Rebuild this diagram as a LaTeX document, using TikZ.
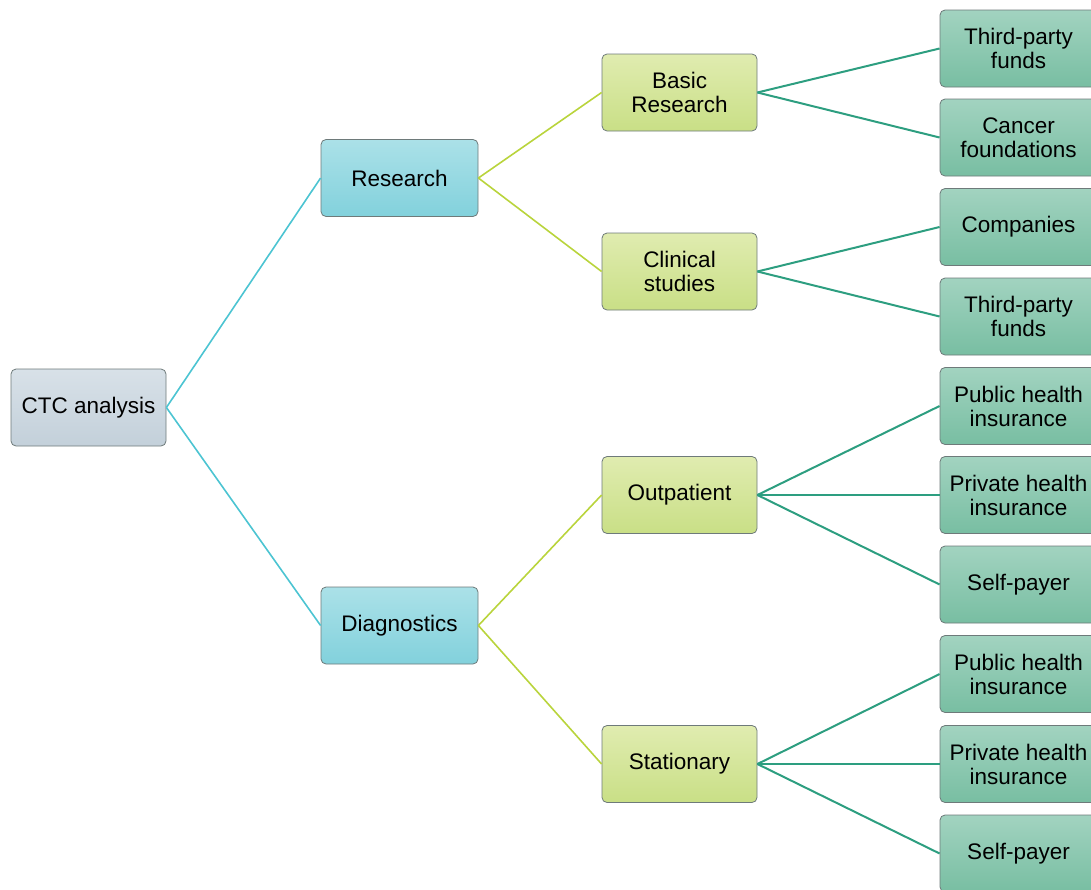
\documentclass[tikz,border=0pt]{standalone}
\usepackage{fontspec}
\setmainfont{Liberation Sans}
\usepackage{tikz}
\usetikzlibrary{positioning}

\definecolor{rootTop}{HTML}{D8E1E8}
\definecolor{rootBot}{HTML}{C3D0DA}
\definecolor{resTop}{HTML}{ABE1E8}
\definecolor{resBot}{HTML}{82D1DC}
\definecolor{subTop}{HTML}{E0ECB0}
\definecolor{subBot}{HTML}{C9DF86}
\definecolor{leafTop}{HTML}{A2D3C0}
\definecolor{leafBot}{HTML}{78BEA2}
\definecolor{boxLine}{HTML}{6E7A7A}
\definecolor{edgeCyan}{HTML}{4CC4D2}
\definecolor{edgeLime}{HTML}{B9D43C}
\definecolor{edgeTeal}{HTML}{2D9E80}

\begin{document}
\begin{tikzpicture}
          [x=1pt,y=-1pt,semithick,
           box/.style={draw=boxLine,line width=0.8pt,rounded corners=5pt,
             minimum width=155pt,minimum height=77pt,align=center,
             font=\fontsize{22.5}{24}\selectfont,text=black,inner sep=2pt},
           rootbox/.style={box,top color=rootTop,bottom color=rootBot},
           areabox/.style={box,top color=resTop,bottom color=resBot,minimum width=157pt},
           subbox/.style={box,top color=subTop,bottom color=subBot},
           leafbox/.style={box,top color=leafTop,bottom color=leafBot,minimum width=157pt},
           edge1/.style={draw=edgeCyan,line width=1.6pt},
           edge2/.style={draw=edgeLime,line width=1.6pt},
           edge3/.style={draw=edgeTeal,line width=2pt}]
          \useasboundingbox (0,0) rectangle (1091,889);

          % root and first level
          \node[rootbox] (ctc) at (88.5,407.5) {CTC analysis};
          \node[areabox] (res) at (399.5,178) {Research};
          \node[areabox] (diag) at (399.5,625.5) {Diagnostics};

          % second level
          \node[subbox] (basic) at (679.5,92.5) {Basic\\Research};
          \node[subbox] (clin) at (679.5,271.5) {Clinical\\studies};
          \node[subbox] (outp) at (679.5,495) {Outpatient};
          \node[subbox] (stat) at (679.5,764) {Stationary};

          % funding sources
          \node[leafbox] (tpf1) at (1018.5,48.5) {Third-party\\funds};
          \node[leafbox] (canc) at (1018.5,137.5) {Cancer\\foundations};
          \node[leafbox] (comp) at (1018.5,227) {Companies};
          \node[leafbox] (tpf2) at (1018.5,316.5) {Third-party\\funds};
          \node[leafbox] (pub1) at (1018.5,406) {Public health\\insurance};
          \node[leafbox] (priv1) at (1018.5,495) {Private health\\insurance};
          \node[leafbox] (self1) at (1018.5,584.5) {Self-payer};
          \node[leafbox] (pub2) at (1018.5,674) {Public health\\insurance};
          \node[leafbox] (priv2) at (1018.5,764) {Private health\\insurance};
          \node[leafbox] (self2) at (1018.5,853.5) {Self-payer};

          \path[edge1]
          (ctc.east) edge (res.west)
          (ctc.east) edge (diag.west)
          ;
          \path[edge2]
          (res.east) edge (basic.west)
          (res.east) edge (clin.west)
          (diag.east) edge (outp.west)
          (diag.east) edge (stat.west)
          ;
          \path[edge3]
          (basic.east) edge (tpf1.west)
          (basic.east) edge (canc.west)
          (clin.east) edge (comp.west)
          (clin.east) edge (tpf2.west)
          (outp.east) edge (pub1.west)
          (outp.east) edge (priv1.west)
          (outp.east) edge (self1.west)
          (stat.east) edge (pub2.west)
          (stat.east) edge (priv2.west)
          (stat.east) edge (self2.west)
          ;
        \end{tikzpicture}
\end{document}
